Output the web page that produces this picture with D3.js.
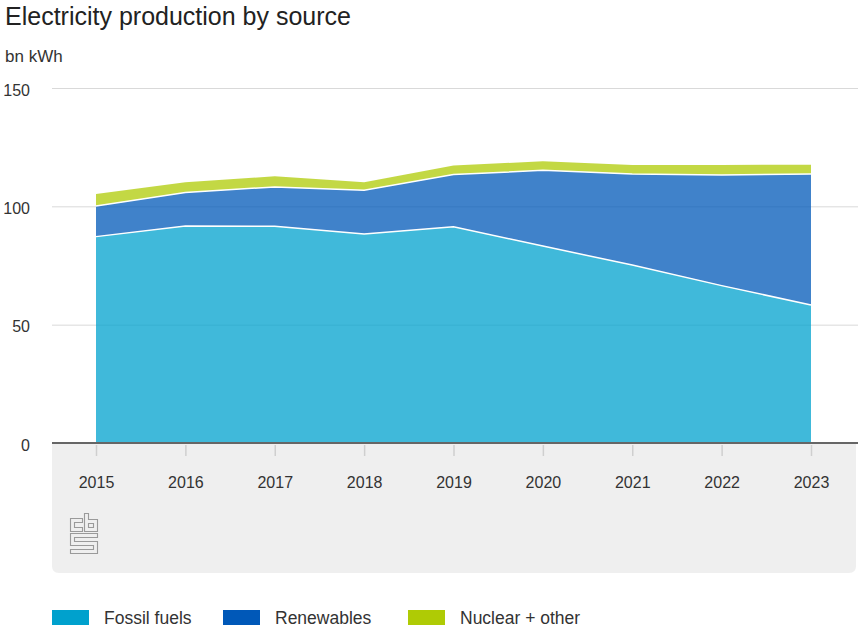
<!DOCTYPE html>
<html>
<head>
<meta charset="utf-8">
<script src="https://cdn.jsdelivr.net/npm/d3@7"></script>
<style>
  html, body { margin: 0; padding: 0; background: #fff; }
  svg { display: block; font-family: "Liberation Sans", Arial, sans-serif; }
</style>
</head>
<body>
<svg id="chart" width="858" height="630"></svg>
<script>
// Electricity production in the Netherlands, billions of kWh
const years = [2015, 2016, 2017, 2018, 2019, 2020, 2021, 2022, 2023];
const fossil = [87.2, 91.7, 91.6, 88.3, 91.4, 83.2, 75.2, 66.5, 58.3];
const renewables = [12.9, 14.1, 16.6, 18.5, 22.0, 32.0, 38.5, 46.7, 55.4];
const nuclearOther = [5.1, 4.4, 4.5, 3.4, 3.9, 3.8, 3.8, 4.3, 3.9];
const yTicks = [0, 50, 100, 150];

const seriesNames = ["Fossil fuels", "Renewables", "Nuclear + other"];
const seriesKeys = ["fossil", "renewables", "nuclear"];
const colors = ["#00a1cd", "#0058b8", "#afcb05"];

const rows = years.map((y, i) => ({
  year: y, fossil: fossil[i], renewables: renewables[i], nuclear: nuclearOther[i]
}));

const svg = d3.select("#chart");
const left = 52, right = 858;
const x = d3.scalePoint().domain(years).range([96, 811]);
const y = d3.scaleLinear().domain([0, 150]).range([443, 88]);

// Title and unit
svg.append("text").attr("x", 5).attr("y", 25)
  .attr("font-size", 25).attr("fill", "#222").text("Electricity production by source");
svg.append("text").attr("x", 5).attr("y", 62)
  .attr("font-size", 17).attr("fill", "#333").text("bn kWh");

// Grey panel under the x axis
svg.append("path")
  .attr("d", (() => {
    const x0 = left, x1 = 856, y0 = 443, y1 = 573, r = 7;
    return `M${x0},${y0} H${x1} V${y1 - r} Q${x1},${y1} ${x1 - r},${y1} H${x0 + r} Q${x0},${y1} ${x0},${y1 - r} Z`;
  })())
  .attr("fill", "#efefef");

// Horizontal gridlines + value labels
const yAxis = d3.axisLeft(y).tickValues(yTicks).tickSize(-(right - left)).tickPadding(22);
const gy = svg.append("g").attr("transform", `translate(${left},0)`).call(yAxis);
gy.select(".domain").remove();
gy.selectAll(".tick line").attr("stroke", "#d9d9d9").attr("stroke-width", 1);
gy.selectAll(".tick text").attr("font-size", 16).attr("fill", "#333")
  .attr("dy", "0.44em")
  .attr("font-family", "Liberation Sans, Arial, sans-serif");
gy.selectAll(".tick").filter(d => d === 0).select("line").remove();

// Stacked areas
const stack = d3.stack().keys(seriesKeys);
const layers = stack(rows);
const area = d3.area()
  .x(d => x(d.data.year))
  .y0(d => y(d[0]))
  .y1(d => y(d[1]));
const topLine = d3.line()
  .x(d => x(d.data.year))
  .y(d => y(d[1]));

svg.append("g").selectAll("path").data(layers).join("path")
  .attr("d", area)
  .attr("fill", (d, i) => colors[i])
  .attr("fill-opacity", 0.75);

svg.append("g").selectAll("path").data(layers.slice(0, 2)).join("path")
  .attr("d", topLine)
  .attr("fill", "none")
  .attr("stroke", "#fff")
  .attr("stroke-width", 1.5);

// Baseline and x axis
const xAxis = d3.axisBottom(x).tickSize(0).tickPadding(0);
const gx = svg.append("g").attr("transform", "translate(0,443)").call(xAxis);
gx.select(".domain").remove();
gx.selectAll(".tick text").attr("font-size", 16).attr("fill", "#333")
  .attr("dy", 0).attr("y", 45)
  .attr("font-family", "Liberation Sans, Arial, sans-serif");
gx.selectAll(".tick").append("line")
  .attr("y1", 2).attr("y2", 13).attr("stroke", "#cfcfcf").attr("stroke-width", 1.5);

svg.append("line").attr("x1", left).attr("x2", right)
  .attr("y1", 443).attr("y2", 443)
  .attr("stroke", "#666").attr("stroke-width", 2);

// Logo mark: outlined block letters
const logo = svg.append("g").attr("transform", "translate(70,513)")
  .attr("fill", "none").attr("stroke", "#9a9a9a").attr("stroke-width", 1.1);
const logoPaths = [
  "M0.5,5.5 H12.5 V9.5 H4.5 V14.5 H12.5 V18.5 H0.5 Z",
  "M14.5,0.5 H18.5 V6.5 H27.5 V18.5 H14.5 Z M18.5,10.5 H23.5 V14.5 H18.5 Z",
  "M0.5,20.5 H27.5 V24.5 H4.5 V28.5 H27.5 V40.5 H0.5 V36.5 H23.5 V32.5 H0.5 Z"
];
logo.selectAll("path").data(logoPaths).join("path").attr("d", d => d);

// Legend
const legendX = [52, 223, 408];
const lg = svg.append("g").selectAll("g").data(seriesNames).join("g")
  .attr("transform", (d, i) => `translate(${legendX[i]},610)`);
lg.append("rect").attr("width", 37).attr("height", 15).attr("fill", (d, i) => colors[i]);
lg.append("text").attr("x", 52).attr("y", 14).attr("font-size", 17.5).attr("fill", "#333")
  .text(d => d);
</script>
</body>
</html>
